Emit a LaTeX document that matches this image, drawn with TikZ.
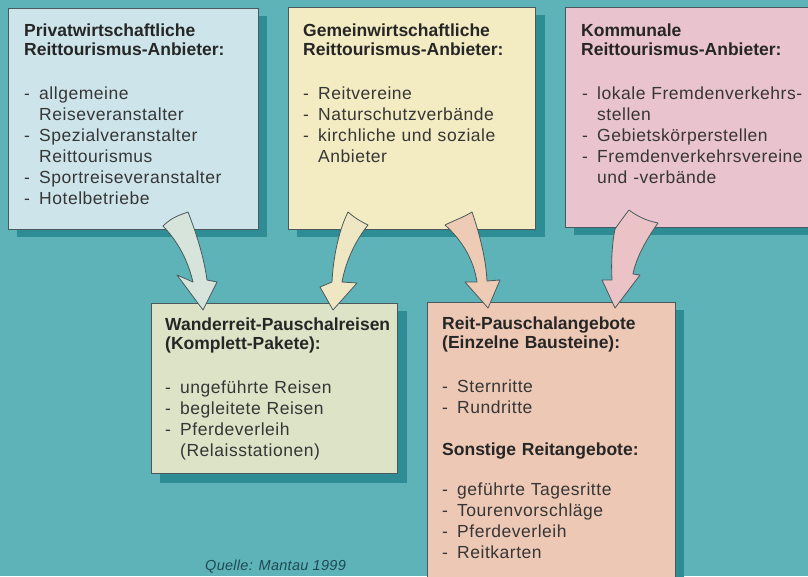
\documentclass[tikz,border=0pt]{standalone}
\usepackage{fontspec}
\setmainfont{Liberation Sans}
\newfontfamily\bodyfont[LetterSpace=3]{Liberation Sans}
\newfontfamily\headfont{Liberation Sans}
\newfontfamily\quellefont[LetterSpace=2]{Liberation Sans}
\definecolor{bgteal}{HTML}{5DB3B7}
\definecolor{shadowc}{HTML}{2E8C94}
\definecolor{boxline}{HTML}{4A5A5C}
\definecolor{cblue}{HTML}{CDE5EA}
\definecolor{cyellow}{HTML}{F3EBC2}
\definecolor{cpink}{HTML}{E9C3CE}
\definecolor{cgreen}{HTML}{DCE3C6}
\definecolor{csalmon}{HTML}{EDC8B5}
\definecolor{aA}{HTML}{D6E4DC}
\definecolor{aB}{HTML}{EFE6C3}
\definecolor{aC}{HTML}{EDCBB4}
\definecolor{aD}{HTML}{EBC3C6}
\definecolor{txtc}{HTML}{262626}
\definecolor{bodyc}{HTML}{363636}
\definecolor{quellec}{HTML}{1F4A54}
\newcommand{\dashitem}[1]{\makebox[15pt][l]{-}#1}
\newcommand{\contline}[1]{\hspace*{15pt}#1}
\begin{document}
\begin{tikzpicture}[x=1pt,y=-1pt,
  boxshape/.style={draw=boxline, line width=0.7pt},
  shadowshape/.style={fill=shadowc},
  bigarrow/.style={draw=boxline, line width=0.8pt, line join=round},
  ttl/.style={anchor=base west, inner sep=0pt, text width=250pt, align=left, text=txtc,
    font=\headfont\bfseries\fontsize{17.5}{19.5}\selectfont},
  bodytext/.style={anchor=base west, inner sep=0pt, text width=250pt, align=left, text=bodyc,
    font=\bodyfont\fontsize{17.5}{21}\selectfont}]
\useasboundingbox (0,0) rectangle (808,576);
\fill[bgteal] (0,0) rectangle (808,576);
\clip (0,0) rectangle (808,576);

% shadows
\fill[shadowshape] (17,16) rectangle (267,237);
\fill[shadowshape] (297,15) rectangle (545,237);
\fill[shadowshape] (574,15) rectangle (830,235);
\fill[shadowshape] (160,311) rectangle (407,483);
\fill[shadowshape] (436,310) rectangle (684,590);

% boxes
\node[boxshape, fill=cblue, minimum width=250pt, minimum height=221pt, anchor=north west, inner sep=0pt] (b1) at (8,8) {};
\node[boxshape, fill=cyellow, minimum width=247pt, minimum height=222pt, anchor=north west, inner sep=0pt] (b2) at (288,7) {};
\node[boxshape, fill=cpink, minimum width=260pt, minimum height=220pt, anchor=north west, inner sep=0pt] (b3) at (565,7) {};
\node[boxshape, fill=cgreen, minimum width=246pt, minimum height=170pt, anchor=north west, inner sep=0pt] (b4) at (151,303) {};
\node[boxshape, fill=csalmon, minimum width=248pt, minimum height=285pt, anchor=north west, inner sep=0pt] (b5) at (427,302) {};

% arrows
\draw[bigarrow, fill=aA] (163,226) .. controls (172,217) and (180,215) .. (188,212)
  .. controls (197,235) and (204,258) .. (207,280) -- (217,282) -- (203,310) -- (177,275) -- (193,282)
  .. controls (188,262) and (180,244) .. (163,226) -- cycle;
\draw[bigarrow, fill=aB] (348,212) .. controls (356,219) and (362,222) .. (368,225)
  .. controls (356,240) and (346,260) .. (342,282) -- (357,283) -- (333,310) -- (320,287) -- (332,282)
  .. controls (333,260) and (338,232) .. (348,212) -- cycle;
\draw[bigarrow, fill=aC] (445,225) .. controls (455,220) and (464,217) .. (472,212)
  .. controls (480,235) and (486,260) .. (487,281) -- (500,280) -- (488,308) -- (465,282) -- (477,282)
  .. controls (474,262) and (464,242) .. (445,225) -- cycle;
\draw[bigarrow, fill=aD] (615,229) .. controls (620,222) and (625,215) .. (629,210)
  .. controls (638,217) and (648,221) .. (658,223)
  .. controls (646,240) and (636,258) .. (633,274) -- (640,275) -- (615,308) -- (602,280) -- (612,280)
  .. controls (611,262) and (612,244) .. (615,229) -- cycle;

% texts box 1
\node[ttl] (t1) at (24,36) {Privatwirtschaftliche\\Reittourismus-Anbieter:};
\node[bodytext] (l1) at (24,99) {\dashitem{allgemeine}\\\contline{Reiseveranstalter}\\\dashitem{Spezialveranstalter}\\\contline{Reittourismus}\\\dashitem{Sportreiseveranstalter}\\\dashitem{Hotelbetriebe}};
% box 2
\node[ttl] (t2) at (303,36) {Gemeinwirtschaftliche\\Reittourismus-Anbieter:};
\node[bodytext] (l2) at (303,99) {\dashitem{Reitvereine}\\\dashitem{Naturschutzverbände}\\\dashitem{kirchliche und soziale}\\\contline{Anbieter}};
% box 3
\node[ttl] (t3) at (581,36) {Kommunale\\Reittourismus-Anbieter:};
\node[bodytext] (l3) at (582,99) {\dashitem{lokale Fremdenverkehrs-}\\\contline{stellen}\\\dashitem{Gebietskörperstellen}\\\dashitem{Fremdenverkehrsvereine}\\\contline{und -verbände}};
% box 4
\node[ttl] (t4) at (165,330) {Wanderreit-Pauschalreisen\\(Komplett-Pakete):};
\node[bodytext] (l4) at (165,393) {\dashitem{ungeführte Reisen}\\\dashitem{begleitete Reisen}\\\dashitem{Pferdeverleih}\\\contline{(Relaisstationen)}};
% box 5
\node[ttl] (t5) at (442,329) {Reit-Pauschalangebote\\(Einzelne Bausteine):};
\node[bodytext] (l5) at (442,392) {\dashitem{Sternritte}\\\dashitem{Rundritte}};
\node[ttl] (t6) at (442,455) {Sonstige Reitangebote:};
\node[bodytext] (l6) at (442,495) {\dashitem{geführte Tagesritte}\\\dashitem{Tourenvorschläge}\\\dashitem{Pferdeverleih}\\\dashitem{Reitkarten}};

\node[anchor=base west, inner sep=0pt, text=quellec, font=\quellefont\itshape\fontsize{14.5}{16}\selectfont] (q) at (205,570) {Quelle: Mantau 1999};
\end{tikzpicture}
\end{document}
